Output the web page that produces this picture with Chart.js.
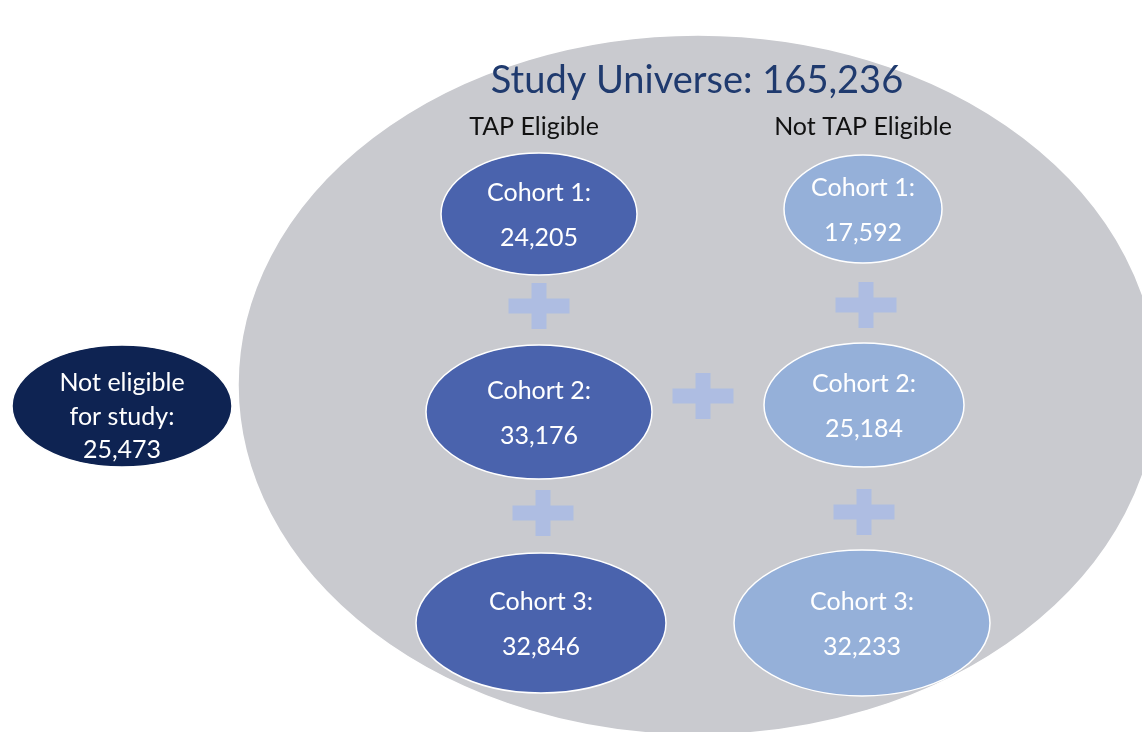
<!DOCTYPE html>
<html>
<head>
<meta charset="utf-8">
<script src="https://cdn.jsdelivr.net/npm/chart.js@4/dist/chart.umd.min.js"></script>
<style>
  body { margin: 0; background: #fff; }
  #wrap { width: 1142px; height: 732px; }
</style>
</head>
<body>
<div id="wrap"><canvas id="chart"></canvas></div>
<script>
// data
const title = "Study Universe";
const studyUniverse = 165236;
const groups = ["TAP Eligible", "Not TAP Eligible"];
const cohorts = ["Cohort 1:", "Cohort 2:", "Cohort 3:"];
const tapEligible = [24205, 33176, 32846];
const notTapEligible = [17592, 25184, 32233];
const notEligibleLabel = ["Not eligible", "for study:"];
const notEligible = 25473;

// layout (diagram units = pixels of the 1142x732 frame)
const universeBox = { x: 698, y: 385, rx: 460, ry: 350 };
const notEligibleBox = { x: 122, y: 406, rx: 110, ry: 61 };
const tapBoxes = [
    { x: 539, y: 214, rx: 98, ry: 61 },
    { x: 539, y: 412, rx: 113, ry: 67 },
    { x: 541, y: 623, rx: 125, ry: 70 }
];
const notTapBoxes = [
    { x: 863, y: 209, rx: 79, ry: 54 },
    { x: 864, y: 405, rx: 100, ry: 62 },
    { x: 862, y: 623, rx: 128, ry: 73 }
];
const plusSigns = [
    { x: 539, y: 306 }, { x: 543, y: 513 }, { x: 703, y: 396 },
    { x: 866, y: 305 }, { x: 864, y: 512 }
];

const fmt = n => n.toLocaleString("en-US");

function ellipseSet(label, boxes, color) {
    return {
        label: label,
        data: boxes.map(b => ({ x: b.x, y: b.y })),
        radii: boxes.map(b => [b.rx, b.ry]),
        fill: color,
        pointRadius: 0
    };
}

let datasets = [
    ellipseSet("universe", [universeBox], "#c9cacf"),
    ellipseSet("notEligible", [notEligibleBox], "#0e2352"),
    ellipseSet("tap", tapBoxes, "#4a63ad"),
    ellipseSet("notTap", notTapBoxes, "#95b0d9"),
    { label: "plus", data: plusSigns, pointRadius: 0, plus: true }
];

const diagramPlugin = {
    id: "diagram",
    afterDatasetsDraw(chart) {
        const ctx = chart.ctx;
        const xs = chart.scales.x, ys = chart.scales.y;
        const dx = v => Math.abs(xs.getPixelForValue(v) - xs.getPixelForValue(0));
        const dy = v => Math.abs(ys.getPixelForValue(v) - ys.getPixelForValue(0));
        ctx.save();
        chart.data.datasets.forEach((ds, di) => {
            const meta = chart.getDatasetMeta(di);
            meta.data.forEach((pt, i) => {
                if (ds.plus) {
                    ctx.fillStyle = "#aebde2";
                    const w = dx(61), h = dy(46), t = dx(15);
                    ctx.fillRect(pt.x - w / 2, pt.y - t / 2, w, t);
                    ctx.fillRect(pt.x - t / 2, pt.y - h / 2, t, h);
                    return;
                }
                ctx.beginPath();
                ctx.ellipse(pt.x, pt.y, dx(ds.radii[i][0]), dy(ds.radii[i][1]), 0, 0, Math.PI * 2);
                ctx.fillStyle = ds.fill;
                ctx.fill();
                ctx.lineWidth = 1.5;
                ctx.strokeStyle = "#ffffff";
                ctx.stroke();
            });
        });

        ctx.textAlign = "center";
        ctx.textBaseline = "middle";
        const txt = (s, x, y, font, color) => {
            ctx.font = font; ctx.fillStyle = color;
            ctx.fillText(s, xs.getPixelForValue(x), ys.getPixelForValue(y));
        };
        const f = "Lato, 'Open Sans', sans-serif";

        txt(title + ": " + fmt(studyUniverse), 697, 81, "38px " + f, "#1f3a6e");
        txt(groups[0], 534, 127, "25px " + f, "#111");
        txt(groups[1], 863, 127, "25px " + f, "#111");

        [[tapBoxes, tapEligible], [notTapBoxes, notTapEligible]].forEach(([boxes, vals]) => {
            boxes.forEach((b, i) => {
                txt(cohorts[i], b.x, b.y - 21, "25px " + f, "#ffffff");
                txt(fmt(vals[i]), b.x, b.y + 24, "25px " + f, "#ffffff");
            });
        });

        txt(notEligibleLabel[0], 122, 383, "25px " + f, "#ffffff");
        txt(notEligibleLabel[1], 122, 417, "25px " + f, "#ffffff");
        txt(fmt(notEligible), 122, 450, "25px " + f, "#ffffff");
        ctx.restore();
    }
};

new Chart(document.getElementById("chart"), {
    type: "scatter",
    data: { datasets: datasets },
    options: {
        responsive: true,
        maintainAspectRatio: false,
        animation: false,
        layout: { padding: 0 },
        plugins: { legend: { display: false }, tooltip: { enabled: false } },
        scales: {
            x: { type: "linear", min: 0, max: 1142, display: false },
            y: { type: "linear", min: 0, max: 732, reverse: true, display: false }
        }
    },
    plugins: [diagramPlugin]
});
</script>
</body>
</html>
